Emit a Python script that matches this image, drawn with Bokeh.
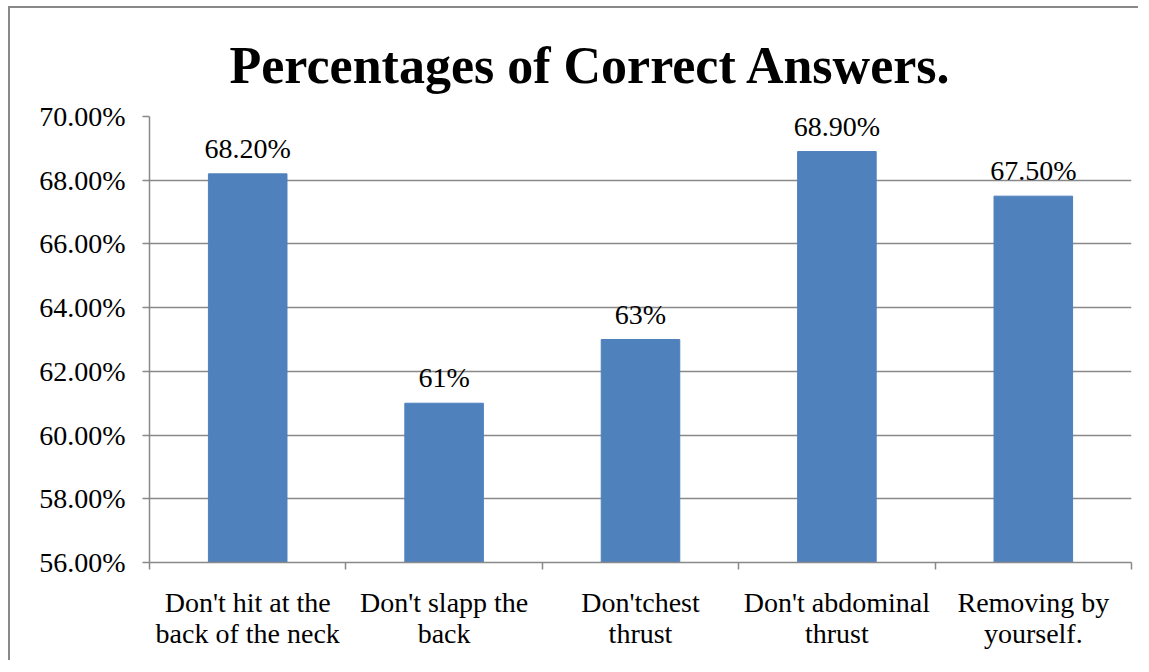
from bokeh.plotting import figure
from bokeh.models import (ColumnDataSource, FixedTicker, NumeralTickFormatter,
                          Range1d, LabelSet)
from bokeh.embed import file_html
from bokeh.resources import INLINE

categories = ["Don't hit at the\nback of the neck", "Don't slapp the\nback",
              "Don'tchest\nthrust", "Don't abdominal\nthrust",
              "Removing by\nyourself."]
values = [0.682, 0.61, 0.63, 0.689, 0.675]
value_labels = ["68.20%", "61%", "63%", "68.90%", "67.50%"]
y_ticks = [0.56, 0.58, 0.60, 0.62, 0.64, 0.66, 0.68, 0.70]
title_text = "Percentages of Correct Answers."

FONT = "Liberation Serif"
GRAY = "#898989"
BAR = "#4F81BD"

n = len(categories)
centers = [i + 0.5 for i in range(n)]
bounds = [float(i) for i in range(n + 1)]
y_start, y_end = y_ticks[0], y_ticks[-1]

src = ColumnDataSource(data=dict(x=centers, top=values, lab=value_labels))

p = figure(width=1130, height=654, output_backend="svg", toolbar_location=None,
           x_range=Range1d(0, n), y_range=Range1d(y_start, y_end),
           min_border_left=139, min_border_right=9, min_border_top=108,
           min_border_bottom=100)
p.styles = {"margin-left": "8px", "margin-top": "6px",
            "border-left": f"2px solid {GRAY}", "border-top": f"2px solid {GRAY}"}
p.background_fill_color = "white"
p.border_fill_color = "white"
p.outline_line_color = None

p.title.text = title_text
p.title.text_font = FONT
p.title.text_font_style = "bold"
p.title.text_font_size = "52px"
p.title.text_color = "black"
p.title.align = "left"
p.title.offset = 80
p.title.standoff = 46

p.vbar(x="x", top="top", bottom=y_start, width=0.4, source=src,
       fill_color=BAR, line_color=BAR)

labels = LabelSet(x="x", y="top", text="lab", source=src, text_align="center",
                  text_baseline="alphabetic", y_offset=16, text_font=FONT,
                  text_font_size="28px", text_color="black")
p.add_layout(labels)

# y axis
p.yaxis.ticker = FixedTicker(ticks=y_ticks)
p.yaxis.formatter = NumeralTickFormatter(format="0.00%")
p.yaxis.axis_line_color = GRAY
p.yaxis.axis_line_width = 1.5
p.yaxis.major_tick_line_color = GRAY
p.yaxis.major_tick_line_width = 1.5
p.yaxis.major_tick_out = 7
p.yaxis.major_tick_in = 0
p.yaxis.minor_tick_line_color = None
p.yaxis.major_label_text_font = FONT
p.yaxis.major_label_text_font_size = "28px"
p.yaxis.major_label_text_color = "black"
p.yaxis.major_label_standoff = 17

# x axis
p.xaxis.ticker = FixedTicker(ticks=centers, minor_ticks=bounds)
p.xaxis.major_label_overrides = {c: lab for c, lab in zip(centers, categories)}
p.xaxis.axis_line_color = GRAY
p.xaxis.axis_line_width = 1.5
p.xaxis.major_tick_line_color = None
p.xaxis.major_tick_out = 0
p.xaxis.major_tick_in = 0
p.xaxis.minor_tick_line_color = GRAY
p.xaxis.minor_tick_line_width = 1.5
p.xaxis.minor_tick_out = 7
p.xaxis.minor_tick_in = 0
p.xaxis.major_label_text_font = FONT
p.xaxis.major_label_text_font_size = "28px"
p.xaxis.major_label_text_color = "black"
p.xaxis.major_label_text_line_height = 1.0
p.xaxis.major_label_standoff = 17

p.xgrid.grid_line_color = None
p.ygrid.ticker = FixedTicker(ticks=y_ticks)
p.ygrid.grid_line_color = GRAY
p.ygrid.grid_line_width = 1.5

open("out.html", "w").write(file_html(p, INLINE))
